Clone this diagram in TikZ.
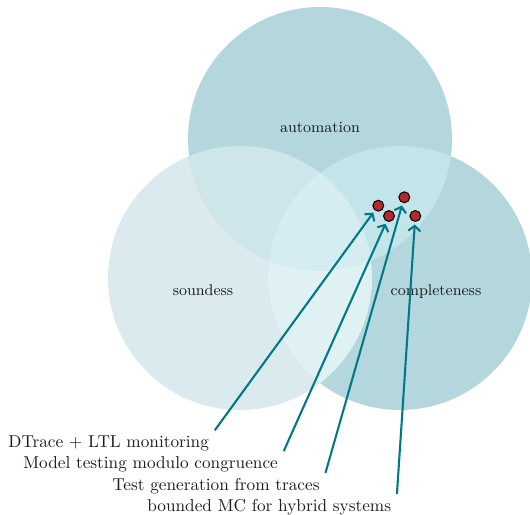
\documentclass[tikz,border=0pt]{standalone}
\usepackage{tikz}
\usetikzlibrary{
  arrows.meta,
  positioning
}
\definecolor{petrol}{RGB}{0,120,136}
\definecolor{setdark}{RGB}{180,215,222}
\definecolor{setlight}{RGB}{218,234,238}
\definecolor{mixtl}{RGB}{206,230,234}
\definecolor{mixtr}{RGB}{195,229,233}
\definecolor{mixlr}{RGB}{224,241,244}
\definecolor{mixall}{RGB}{213,237,240}
\definecolor{dotred}{RGB}{182,40,42}
\definecolor{darkgray}{RGB}{25,28,32}

\begin{document}
\begin{tikzpicture}[x=0.58pt, y=0.58pt,
            setname/.style={font=\small, text=darkgray, anchor=base},
            workdot/.style={circle, draw=black, fill=dotred, semithick, inner sep=0pt, minimum size=6.3pt},
            toolname/.style={text=darkgray, anchor=base west, inner sep=3.2pt},
            pointer/.style={-{Straight Barb[length=3pt,width=7pt]}, draw=petrol, line width=1.2pt, shorten >=1.5pt}]
            \useasboundingbox (0,0) rectangle (530,515);
            \coordinate (ctop) at (320,376);
            \coordinate (cleft) at (240,237);
            \coordinate (cright) at (400,237);
            % the three sets
            \fill [setlight] (cleft) circle (132);
            \fill [setdark] (ctop) circle (132);
            \fill [setdark] (cright) circle (132);
            \begin{scope}
                \clip (ctop) circle (132);
                \fill [mixtl] (cleft) circle (132);
                \fill [mixtr] (cright) circle (132);
            \end{scope}
            \begin{scope}
                \clip (cleft) circle (132);
                \fill [mixlr] (cright) circle (132);
                \clip (ctop) circle (132);
                \fill [mixall] (cright) circle (132);
            \end{scope}
            \node [setname] (auto) at (320,382) {automation};
            \node [setname] (sound) at (203,219) {soundess};
            \node [setname] (compl) at (436,219) {completeness};
            % the works
            \node [workdot] (d1) at (378.3,309.3) {};
            \node [workdot] (d2) at (389,299) {};
            \node [workdot] (d3) at (404.3,317.7) {};
            \node [workdot] (d4) at (415.3,299) {};
            \node [toolname] (t1) at (2.5,67) {DTrace + LTL monitoring};
            \node [toolname] (t2) at (17.5,46) {Model testing modulo congruence};
            \node [toolname] (t3) at (106.5,24) {Test generation from traces};
            \node [toolname] (t4) at (141.5,3) {bounded MC for hybrid systems};
            \draw [pointer] (t1.north east) -- (d1);
            \draw [pointer] (t2.north east) -- (d2);
            \draw [pointer] (t3.north east) -- (d3);
            \draw [pointer] (t4.north east) -- (d4);
        \end{tikzpicture}
\end{document}
